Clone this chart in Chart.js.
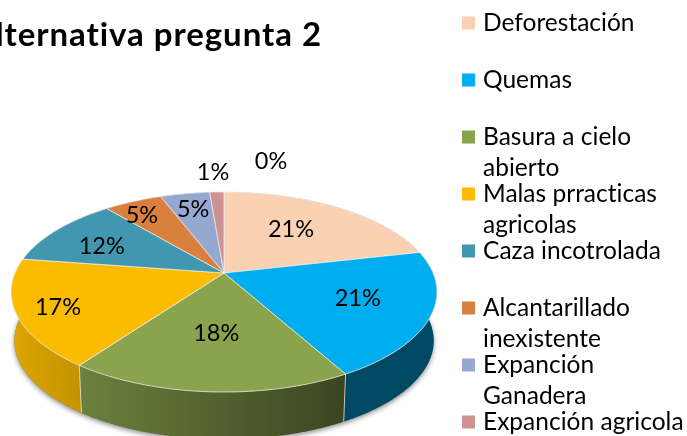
<!DOCTYPE html>
<html><head><meta charset="utf-8">
<style>html,body{margin:0;padding:0;background:#fff;overflow:hidden}canvas{display:block}</style>
<script src="https://cdn.jsdelivr.net/npm/chart.js@4"></script>
</head><body><canvas id="c" width="687" height="436"></canvas>
<script>
const titleText = 'Alternativa pregunta 2';
const categories = ['Deforestación','Quemas','Basura a cielo abierto','Malas prracticas agricolas','Caza incotrolada','Alcantarillado inexistente','Expanción Ganadera','Expanción agricola',''];
const legendLines = [['Deforestación'],['Quemas'],['Basura a cielo','abierto'],['Malas prracticas','agricolas'],['Caza incotrolada'],['Alcantarillado','inexistente'],['Expanción','Ganadera'],['Expanción agricola']];
const values = [21.4,20.5,18,17.4,11.5,5.3,4.5,1.3,0];
const colors = ['#FAD1B3','#00AEEF','#8AA44E','#FBBC00','#4197B0','#D9803E','#94A8D0','#CF9292','#C0C0C0'];

// label placement: fraction of radius along the slice's middle, then a small nudge
const labelRadius = [0.62,0.66,0.56,0.81,0.69,0.85,0.79,1.32,1.45];
const labelNudge = [[-7,-1],[1,-2],[0,0],[0,2],[-4,4],[-3,4],[1,1],[-2,1],[47,-2]];

const persp = {sx:209/163, sy:96.4/163, k:0.19, depth:49, shrink:0.985};
function P(arc,a,rho,bottom){
  const u=rho*Math.cos(a), v=rho*Math.sin(a), w=1-persp.k*v, R=arc.outerRadius;
  const s=bottom?persp.shrink:1;
  return [arc.x+s*R*persp.sx*u/w, arc.y+s*R*persp.sy*v/w+(bottom?persp.depth:0)];
}
function shade(hex,f){
  const n=parseInt(hex.slice(1),16);
  return `rgb(${Math.round((n>>16&255)*f)},${Math.round((n>>8&255)*f)},${Math.round((n&255)*f)})`;
}
function arcPts(arc,a0,a1,bottom){
  const n=Math.max(2,Math.ceil((a1-a0)/0.01)),out=[];
  for(let i=0;i<=n;i++)out.push(P(arc,a0+(a1-a0)*i/n,1,bottom));
  return out;
}
const pie3d={id:'pie3d',
  beforeDatasetsDraw(chart){
    const ctx=chart.ctx, arcs=chart.getDatasetMeta(0).data;
    ctx.save();
    const a0=arcs[0];
    ctx.save();
    ctx.shadowColor='rgba(0,0,0,0.45)';ctx.shadowBlur=5;ctx.shadowOffsetY=2;ctx.fillStyle='#888';
    ctx.beginPath();
    arcPts(a0,0,Math.PI*2,true).forEach((p,i)=>i?ctx.lineTo(p[0],p[1]):ctx.moveTo(p[0],p[1]));
    ctx.closePath();ctx.fill();ctx.restore();
    arcs.forEach((arc,i)=>{
      if(arc.endAngle-arc.startAngle<1e-4)return;
      const top=arcPts(arc,arc.startAngle,arc.endAngle,false), bot=arcPts(arc,arc.startAngle,arc.endAngle,true).reverse();
      const g=ctx.createLinearGradient(11,0,345,0);
      g.addColorStop(0,shade(colors[i],0.88));g.addColorStop(1,shade(colors[i],0.42));
      ctx.fillStyle=g;ctx.beginPath();
      top.concat(bot).forEach((p,j)=>j?ctx.lineTo(p[0],p[1]):ctx.moveTo(p[0],p[1]));
      ctx.closePath();ctx.fill();
    });
    ctx.strokeStyle='rgba(235,235,225,0.75)';ctx.lineWidth=1;
    arcs.forEach(arc=>{
      const t=P(arc,arc.startAngle,1,false),b=P(arc,arc.startAngle,1,true);
      if(Math.sin(arc.startAngle)>0.1){ctx.beginPath();ctx.moveTo(t[0],t[1]);ctx.lineTo(b[0],b[1]);ctx.stroke();}
    });
    arcs.forEach((arc,i)=>{
      if(arc.endAngle-arc.startAngle<1e-4)return;
      const c=P(arc,0,0,false);
      ctx.beginPath();ctx.moveTo(c[0],c[1]);
      arcPts(arc,arc.startAngle,arc.endAngle,false).forEach(p=>ctx.lineTo(p[0],p[1]));
      ctx.closePath();
      ctx.fillStyle=colors[i];ctx.fill();
      ctx.strokeStyle='rgba(240,240,235,0.75)';ctx.lineWidth=1;ctx.stroke();
    });
    ctx.restore();
    return false;
  },
  afterDraw(chart){
    const ctx=chart.ctx, arcs=chart.getDatasetMeta(0).data;
    const total=values.reduce((a,b)=>a+b,0);
    ctx.save();
    ctx.fillStyle='#000';ctx.textAlign='center';ctx.textBaseline='middle';
    ctx.font='23.5px Lato';
    arcs.forEach((arc,i)=>{
      const mid=(arc.startAngle+arc.endAngle)/2, p=P(arc,mid,labelRadius[i],false);
      ctx.fillText(Math.round(values[i]/total*100)+'%',p[0]+labelNudge[i][0],p[1]+labelNudge[i][1]);
    });
    ctx.font='bold 33px Lato';ctx.textAlign='right';ctx.textBaseline='alphabetic';
    ctx.letterSpacing='0.95px';
    ctx.fillText(titleText,322,46);
    ctx.letterSpacing='0.01px';
    ctx.font='24.5px Lato';ctx.textAlign='left';ctx.textBaseline='middle';
    legendLines.forEach((lines,i)=>{
      const y=23+57*i;
      ctx.fillStyle=colors[i];ctx.fillRect(462,y-6.5,13,13);
      ctx.fillStyle='#000';
      lines.forEach((t,j)=>ctx.fillText(t,483,y+31*j));
    });
    ctx.restore();
  }
};
new Chart(document.getElementById('c'),{
  type:'pie',
  data:{labels:categories,datasets:[{data:values,backgroundColor:colors,borderWidth:0}]},
  options:{responsive:false,animation:false,
    layout:{padding:{left:0,right:239,top:110,bottom:0}},
    plugins:{legend:{display:false},tooltip:{enabled:false},title:{display:false}}},
  plugins:[pie3d]
});
</script></body></html>
